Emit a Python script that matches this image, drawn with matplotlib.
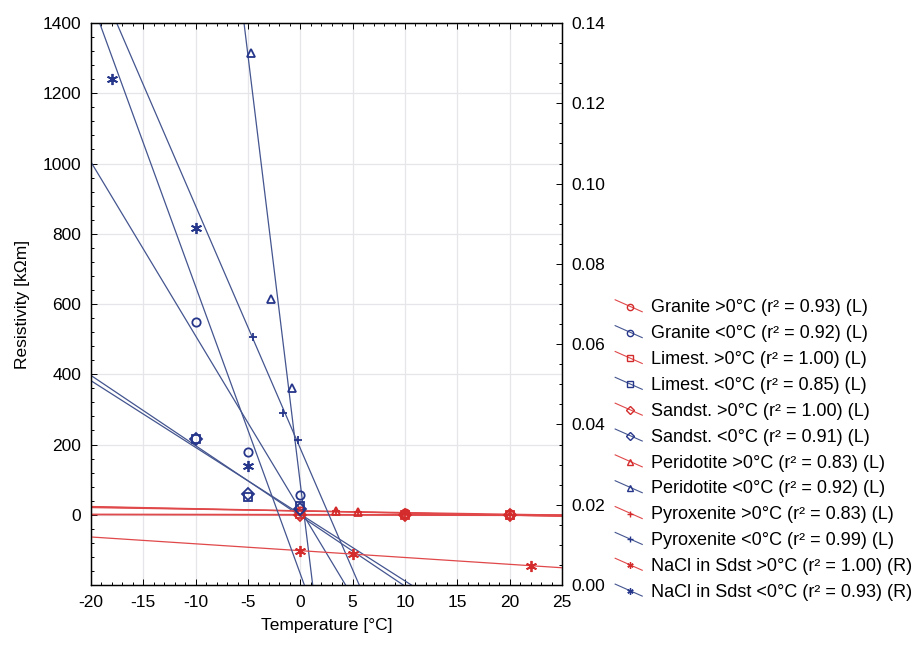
import numpy as np
import matplotlib
matplotlib.use('Agg')
import matplotlib.pyplot as plt
from matplotlib.lines import Line2D
from matplotlib.legend_handler import HandlerBase
from matplotlib.ticker import MultipleLocator, FormatStrFormatter

plt.rcParams['font.family'] = ['Liberation Sans', 'DejaVu Sans']
plt.rcParams['axes.unicode_minus'] = False

# Temperatures and resistivities (left axis, kOhm m)
granite_lo_t = [-10, -5, 0]
granite_lo_r = [550, 180, 55]
granite_hi_t = [0, 10, 20]
granite_hi_r = [11.8, 4.8, 2.4]

limest_lo_t = [-10, -5, 0]
limest_lo_r = [215, 50, 25]
limest_hi_t = [0, 10, 20]
limest_hi_r = [0.8, 0.4, 0.0]

sandst_lo_t = [-10, -5, 0]
sandst_lo_r = [215, 60, 15]
sandst_hi_t = [0, 10, 20]
sandst_hi_r = [-1.0, -1.5, -2.0]

perid_lo_t = [-4.7, -2.8, -0.8]
perid_lo_r = [1315, 614, 360]
perid_hi_t = [3.4, 5.5, 10, 20]
perid_hi_r = [9.5, 8.5, 1.5, 0.0]

pyrox_lo_t = [-4.5, -1.7, -0.2]
pyrox_lo_r = [505, 290, 213]
pyrox_hi_t = [3.4, 5.5, 10, 20]
pyrox_hi_r = [10, 9, 2, 0]

# NaCl in sandstone, right axis
nacl_lo_t = [-18, -10, -5]
nacl_lo_r = [0.126, 0.0889, 0.0296]
nacl_hi_t = [0, 5, 22]
nacl_hi_r = [0.00855, 0.00772, 0.00481]

labels = [
    'Granite >0°C (r² = 0.93) (L)', 'Granite <0°C (r² = 0.92) (L)',
    'Limest. >0°C (r² = 1.00) (L)', 'Limest. <0°C (r² = 0.85) (L)',
    'Sandst. >0°C (r² = 1.00) (L)', 'Sandst. <0°C (r² = 0.91) (L)',
    'Peridotite >0°C (r² = 0.83) (L)', 'Peridotite <0°C (r² = 0.92) (L)',
    'Pyroxenite >0°C (r² = 0.83) (L)', 'Pyroxenite <0°C (r² = 0.99) (L)',
    'NaCl in Sdst >0°C (r² = 1.00) (R)', 'NaCl in Sdst <0°C (r² = 0.93) (R)',
]

RED = '#e0484a'
RED_MK = '#d42c2c'
BLUE = '#44558f'
BLUE_MK = '#26368a'
ASTER = (6, 2, 0)
FS = 12.5

series = [
    (granite_hi_t, granite_hi_r, 'o', 'hi', 'L'),
    (granite_lo_t, granite_lo_r, 'o', 'lo', 'L'),
    (limest_hi_t, limest_hi_r, 's', 'hi', 'L'),
    (limest_lo_t, limest_lo_r, 's', 'lo', 'L'),
    (sandst_hi_t, sandst_hi_r, 'D', 'hi', 'L'),
    (sandst_lo_t, sandst_lo_r, 'D', 'lo', 'L'),
    (perid_hi_t, perid_hi_r, '^', 'hi', 'L'),
    (perid_lo_t, perid_lo_r, '^', 'lo', 'L'),
    (pyrox_hi_t, pyrox_hi_r, '+', 'hi', 'L'),
    (pyrox_lo_t, pyrox_lo_r, '+', 'lo', 'L'),
    (nacl_hi_t, nacl_hi_r, ASTER, 'hi', 'R'),
    (nacl_lo_t, nacl_lo_r, ASTER, 'lo', 'R'),
]


class DiagHandler(HandlerBase):
    """Legend key with a slanted line through a small marker."""
    def create_artists(self, legend, orig_handle, xdescent, ydescent,
                       width, height, fontsize, trans):
        c = orig_handle.get_color()
        ln = Line2D([0.0, width], [height * 1.0, 0.05 * height],
                    color=c, lw=0.8, transform=trans)
        mk = Line2D([0.55 * width], [0.45 * height], marker=orig_handle.get_marker(),
                    ls='none', ms=4.5, mfc='none',
                    mec=orig_handle.get_markeredgecolor(), mew=1.0, transform=trans)
        return [ln, mk]


fig = plt.figure(figsize=(9.19, 6.48), dpi=100)
ax = fig.add_axes([0.099, 0.0972, 0.5125, 0.8673])
ax2 = ax.twinx()

xfit = np.array([-20, 25])
handles = []
for (t, r, mk, side, axis_side) in series:
    a = ax if axis_side == 'L' else ax2
    lc = RED if side == 'hi' else BLUE
    mc = RED_MK if side == 'hi' else BLUE_MK
    k, b = np.polyfit(t, r, 1)
    a.plot(xfit, k * xfit + b, color=lc, lw=0.9, zorder=2)
    ms = 8 if mk == ASTER else 6
    a.plot(t, r, ls='none', marker=mk, ms=ms, mfc='none', mec=mc, mew=1.3, zorder=3)
    handles.append(Line2D([], [], color=lc, marker=mk, mec=mc, mfc='none'))

ax.set_xlim(-20, 25)
ax.set_ylim(-200, 1400)
ax2.set_ylim(0, 0.14)
ax.set_yticks(np.arange(0, 1401, 200))
ax.xaxis.set_major_locator(MultipleLocator(5))
ax.xaxis.set_minor_locator(MultipleLocator(1))
ax.yaxis.set_minor_locator(MultipleLocator(40))
ax2.yaxis.set_major_locator(MultipleLocator(0.02))
ax2.yaxis.set_major_formatter(FormatStrFormatter('%.2f'))
ax2.yaxis.set_minor_locator(MultipleLocator(0.005))

ax.grid(True, which='major', color='#e6e6ea', lw=0.9, zorder=0)
ax.set_axisbelow(True)
ax.tick_params(axis='both', which='both', direction='in', top=True, labelsize=FS,
               length=4, width=0.7, pad=7)
ax.tick_params(which='minor', length=2.5)
ax2.tick_params(axis='y', which='both', direction='in', labelsize=FS,
                length=4, width=0.7, pad=7)
ax2.tick_params(which='minor', length=2.5)
for a in (ax, ax2):
    for s in a.spines.values():
        s.set_linewidth(0.9)

ax.set_xlabel('Temperature [°C]', fontsize=FS, labelpad=6)
ax.set_ylabel('Resistivity [kΩm]', fontsize=FS, labelpad=9)

fig.legend(handles, labels, loc='upper left', bbox_to_anchor=(0.6517, 0.563),
           frameon=False, fontsize=13, handlelength=1.5, handletextpad=0.5,
           labelspacing=0.49, handler_map={Line2D: DiagHandler()})

fig.savefig('out.png', dpi=100)
